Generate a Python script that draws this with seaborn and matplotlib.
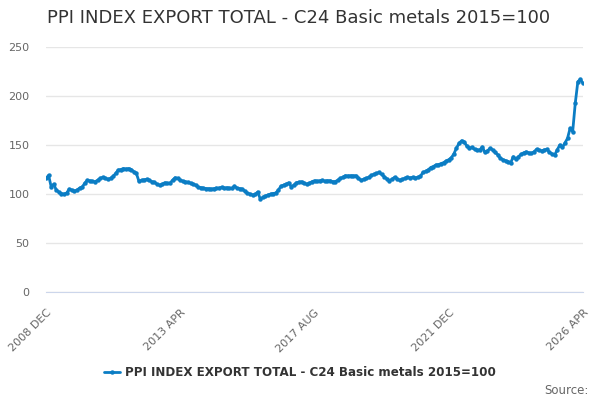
import numpy as np
import pandas as pd
import matplotlib
matplotlib.use('Agg')
import matplotlib.pyplot as plt
import seaborn as sns

# monthly index values, 2008 DEC .. 2026 APR
values = [
    116, 119, 107.5, 110, 104, 102, 100.5, 100, 101, 105,
    104, 103, 104, 106, 107, 111, 114, 113.5, 113, 112.5,
    114, 116, 117, 116, 115, 116, 118, 121, 124.5, 125,
    126, 125.5, 126, 125, 122.8, 121, 113, 114, 114.5, 115,
    114, 112.6, 112, 110, 109, 110, 111.5, 111, 111, 114,
    116.6, 116, 114, 113, 112.5, 112, 111, 110, 109, 107,
    106.5, 106, 105.5, 105.5, 105, 105.5, 106, 106, 106.8, 106,
    106.5, 106, 105.8, 108, 106, 105.5, 105, 103, 100.7, 100,
    99, 99.5, 102, 95, 96.5, 98, 99, 100, 100.5, 101,
    104, 108, 109, 110, 111.5, 107.5, 109, 111.5, 112, 112.6,
    111, 110, 111, 112.5, 113.6, 113, 113.5, 114, 113, 113.6,
    113.6, 112.6, 112.6, 114, 116, 117, 118.7, 118.5, 118.7, 118.5,
    118.7, 116, 114, 115, 116, 117, 119, 120, 121, 122,
    120, 117.7, 115.5, 113.6, 115, 117, 115.5, 114, 115, 116,
    117, 116.5, 117, 116.5, 117, 118, 122, 123, 124.5, 127,
    128, 129.6, 130, 131, 132, 133.7, 135, 137, 141, 147,
    151.7, 154.4, 153, 149, 147, 147.5, 145.6, 145, 145, 148,
    142.5, 144, 146.6, 145, 142.5, 140, 136.4, 135, 134, 133,
    132, 138, 135.7, 138, 140.5, 142, 143, 142, 141.5, 143,
    145.6, 144.5, 144, 145, 145.6, 142.5, 141, 139.8, 145, 150,
    147.6, 152, 156.8, 167, 163.6, 192.6, 214.6, 217, 213,
]
tick_labels = ['2008 DEC', '2013 APR', '2017 AUG', '2021 DEC', '2026 APR']
series_name = 'PPI INDEX EXPORT TOTAL - C24 Basic metals 2015=100'

df = pd.DataFrame({'month': np.arange(len(values)), 'value': values})

sns.set_style('white')
plt.rcParams['font.family'] = ['DejaVu Sans']

fig = plt.figure(figsize=(6, 4), dpi=100)
ax = fig.add_axes([46 / 600, 1 - 292 / 400, 537 / 600, 245 / 400])

line_color = '#0b7dc4'
sns.lineplot(data=df, x='month', y='value', ax=ax, color=line_color,
             linewidth=2, marker='o', markersize=3.2, markeredgewidth=0,
             label=series_name, legend=False)

ax.set_xlim(0, len(values) - 1)
ax.set_ylim(0, 250)
ax.set_yticks([0, 50, 100, 150, 200, 250])
ax.set_xticks(np.arange(0, len(values), 13), minor=True)
ax.set_xticks(np.arange(0, len(values), 52))
ax.set_xticklabels(tick_labels, rotation=45, ha='right', rotation_mode='anchor')
ax.tick_params(axis='x', which='both', length=9, color='#ccd6eb', width=1,
               labelsize=8, labelcolor='#666666', pad=2)
ax.tick_params(axis='y', length=0, labelsize=8, labelcolor='#666666', pad=12)
ax.grid(axis='y', color='#e6e6e6', linewidth=1)
ax.set_axisbelow(True)
for side in ['top', 'right', 'left']:
    ax.spines[side].set_visible(False)
ax.spines['bottom'].set_color('#ccd6eb')
ax.spines['bottom'].set_zorder(0)
ax.set_xlabel('')
ax.set_ylabel('')

fig.text(0.498, 1 - 18 / 400, series_name, ha='center', va='center',
         fontsize=13, color='#333333')

handles, labels = ax.get_legend_handles_labels()
leg = fig.legend(handles, labels, loc='center', bbox_to_anchor=(0.5, 1 - 373 / 400),
                 frameon=False, handlelength=1.3, handletextpad=0.4,
                 prop={'size': 8.6, 'weight': 'bold'})
for t in leg.get_texts():
    t.set_color('#333333')

fig.text(589 / 600, 1 - 390 / 400, 'Source:', ha='right', va='center',
         fontsize=8.5, color='#666666')

plt.savefig('out.png', dpi=100)
